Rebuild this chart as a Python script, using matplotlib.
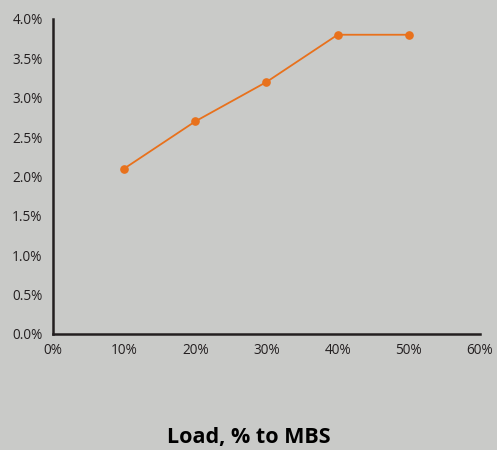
import matplotlib.pyplot as plt
from matplotlib.ticker import FuncFormatter

# data
load_pct = [10, 20, 30, 40, 50]
value_pct = [2.1, 2.7, 3.2, 3.8, 3.8]
x_ticks = [0, 10, 20, 30, 40, 50, 60]
y_ticks = [0.0, 0.5, 1.0, 1.5, 2.0, 2.5, 3.0, 3.5, 4.0]

bg = "#c9cac8"
dark = "#231f20"
orange = "#e8711c"

plt.rcParams['font.family'] = ['Open Sans', 'DejaVu Sans']

fig = plt.figure(figsize=(4.97, 4.5), dpi=100, facecolor=bg)
ax = fig.add_axes([0.1066, 0.2578, 0.8592, 0.7])
ax.set_facecolor(bg)

ax.plot(load_pct, value_pct, color=orange, linewidth=1.3,
        marker='o', markersize=5.2, clip_on=False)

ax.set_xlim(0, 60)
ax.set_ylim(0, 4.0)
ax.set_xticks(x_ticks)
ax.set_yticks(y_ticks)
ax.xaxis.set_major_formatter(FuncFormatter(lambda v, p: f"{v:.0f}%"))
ax.yaxis.set_major_formatter(FuncFormatter(lambda v, p: f"{v:.1f}%"))
ax.tick_params(length=0, labelsize=9.8, colors=dark)
ax.tick_params(axis='y', pad=7.5)
ax.tick_params(axis='x', pad=6.5)

for s in ['top', 'right']:
    ax.spines[s].set_visible(False)
for s in ['left', 'bottom']:
    ax.spines[s].set_color(dark)
    ax.spines[s].set_linewidth(1.8)

fig.text(0.5, 0.028, "Load, % to MBS", ha='center', va='center',
         fontsize=15.5, fontweight='bold', color='black')

fig.savefig("out.png", dpi=100, facecolor=bg)
